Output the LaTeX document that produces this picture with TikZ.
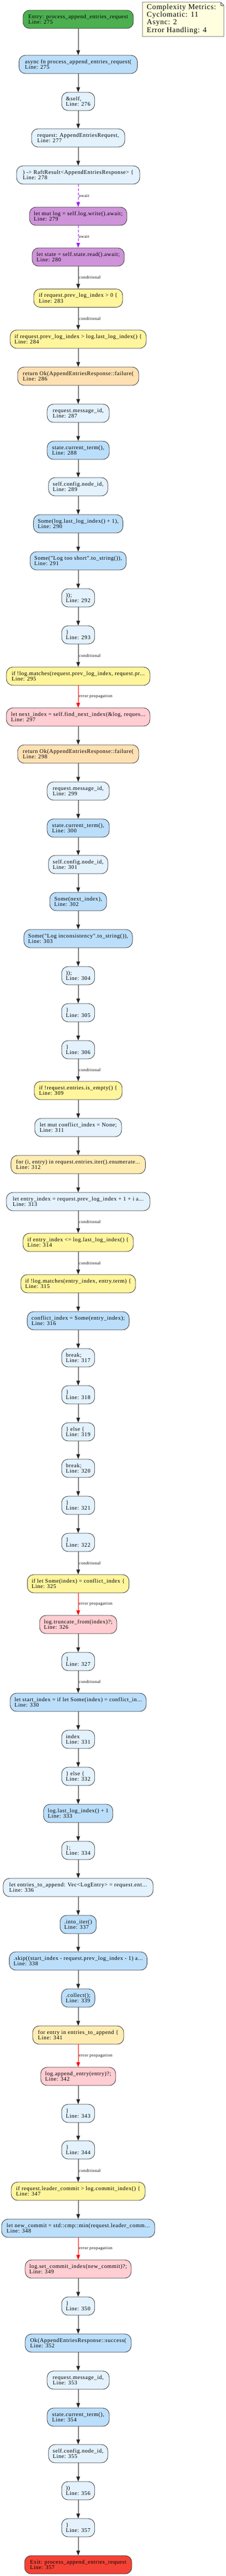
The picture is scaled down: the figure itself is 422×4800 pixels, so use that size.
\documentclass[tikz,border=0pt]{standalone}
\usepackage{fontspec}
\newfontfamily\gvserif[LetterSpace=5.5]{Liberation Serif}
\usetikzlibrary{arrows.meta}
\newcommand\nodefnt{\gvserif\fontsize{10.5}{10.3}\selectfont}
\newcommand\lblfnt{\gvserif\fontsize{8}{9}\selectfont}
\newcommand\notefnt{\gvserif\fontsize{14}{14.3}\selectfont}
\definecolor{cEntry}{HTML}{4CAF50}
\definecolor{cExit}{HTML}{F44336}
\definecolor{cBlueA}{HTML}{BBDEFB}
\definecolor{cBlueB}{HTML}{E3F2FD}
\definecolor{cAsync}{HTML}{CE93D8}
\definecolor{cCond}{HTML}{FFF59D}
\definecolor{cRet}{HTML}{FFE0B2}
\definecolor{cLoop}{HTML}{FFECB3}
\definecolor{cErr}{HTML}{FFCDD2}
\definecolor{cNote}{HTML}{FFFFE0}
\definecolor{cAwait}{HTML}{A020F0}
\begin{document}
\begin{tikzpicture}[x=1pt,y=-1pt,
  nb/.style={draw=black!80, line width=0.8pt, rounded corners=12pt, minimum height=34pt,
    inner xsep=8pt, inner ysep=2pt, align=left, font=\nodefnt, text=black},
  wd/.style={minimum width=#1pt},
  ent/.style={nb, fill=cEntry},
  ext/.style={nb, fill=cExit},
  blA/.style={nb, fill=cBlueA},
  blB/.style={nb, fill=cBlueB},
  asy/.style={nb, fill=cAsync},
  cnd/.style={nb, fill=cCond},
  ret/.style={nb, fill=cRet},
  lp/.style={nb, fill=cLoop},
  err/.style={nb, fill=cErr},
  edge/.style={draw=black!85, line width=0.8pt, -{Triangle[length=9pt,width=7pt]}},
  awaitedge/.style={draw=cAwait, line width=0.8pt, dash pattern=on 5pt off 3pt, -{Triangle[length=9pt,width=7pt,fill=cAwait]}},
  erredge/.style={draw=red, line width=0.8pt, -{Triangle[length=9pt,width=7pt,fill=red]}},
  lbl/.style={anchor=west, font=\lblfnt, inner sep=1pt, text=black}
]
\fill[white] (0,0) rectangle (422,4800);
\useasboundingbox (0,0) rectangle (422,4800);

% metrics note
\draw[draw=black!70, fill=cNote, line width=0.8pt] (266,4) -- (412,4) -- (418,10) -- (418,68) -- (266,68) -- cycle;
\draw[black!70, line width=0.8pt] (412,4) -- (412,10) -- (418,10);
\node[anchor=west, font=\notefnt, align=left, inner sep=0pt] (metrics) at (274,35.5) {Complexity Metrics:\\Cyclomatic: 11\\Async: 2\\Error Handling: 4};

% nodes
\node[ent, wd=206] (n1) at (146,36) {Entry: process\_append\_entries\_request\\Line: 275};
\node[blA, wd=221] (n2) at (146,120) {async fn process\_append\_entries\_request(\\Line: 275};
\node[blB, wd=60] (n3) at (146,189) {\&self,\\Line: 276};
\node[blB, wd=174] (n4) at (146,257) {request: AppendEntriesRequest,\\Line: 277};
\node[blB, wd=230] (n5) at (146,326) {) -> RaftResult<AppendEntriesResponse> \{\\Line: 278};
\node[asy, wd=180] (n6) at (146,403) {let mut log = self.log.write().await;\\Line: 279};
\node[asy, wd=172] (n7) at (146,479) {let state = self.state.read().await;\\Line: 280};
\node[cnd, wd=166] (n8) at (146,555.5) {if request.prev\_log\_index > 0 \{\\Line: 283};
\node[cnd, wd=254] (n9) at (146,632) {if request.prev\_log\_index > log.last\_log\_index() \{\\Line: 284};
\node[ret, wd=226] (n10) at (146,701) {return Ok(AppendEntriesResponse::failure(\\Line: 286};
\node[blB, wd=116] (n11) at (146,770) {request.message\_id,\\Line: 287};
\node[blA, wd=116] (n12) at (146,839) {state.current\_term(),\\Line: 288};
\node[blB, wd=108] (n13) at (146,907) {self.config.node\_id,\\Line: 289};
\node[blA, wd=166] (n14) at (146,976) {Some(log.last\_log\_index() + 1),\\Line: 290};
\node[blA, wd=178] (n15) at (146,1045) {Some("Log too short".to\_string()),\\Line: 291};
\node[blB, wd=60] (n16) at (146,1114) {));\\Line: 292};
\node[blB, wd=60] (n17) at (146,1183) {\}\\Line: 293};
\node[cnd, wd=268] (n18) at (146,1260) {if !log.matches(request.prev\_log\_index, request.pr...\\Line: 295};
\node[err, wd=268] (n19) at (146,1336) {let next\_index = self.find\_next\_index(\&log, reques...\\Line: 297};
\node[ret, wd=226] (n20) at (146,1405) {return Ok(AppendEntriesResponse::failure(\\Line: 298};
\node[blB, wd=116] (n21) at (146,1474) {request.message\_id,\\Line: 299};
\node[blA, wd=116] (n22) at (146,1543) {state.current\_term(),\\Line: 300};
\node[blB, wd=108] (n23) at (146,1611) {self.config.node\_id,\\Line: 301};
\node[blA, wd=106] (n24) at (146,1680) {Some(next\_index),\\Line: 302};
\node[blA, wd=200] (n25) at (146,1749) {Some("Log inconsistency".to\_string()),\\Line: 303};
\node[blB, wd=60] (n26) at (146,1818) {));\\Line: 304};
\node[blB, wd=60] (n27) at (146,1887) {\}\\Line: 305};
\node[blB, wd=60] (n28) at (146,1956) {\}\\Line: 306};
\node[cnd, wd=164] (n29) at (146,2032) {if !request.entries.is\_empty() \{\\Line: 309};
\node[blB, wd=162] (n30) at (146,2101) {let mut conflict\_index = None;\\Line: 311};
\node[lp, wd=251] (n31) at (146,2170) {for (i, entry) in request.entries.iter().enumerate...\\Line: 312};
\node[blB, wd=268] (n32) at (146,2239) {let entry\_index = request.prev\_log\_index + 1 + i a...\\Line: 313};
\node[cnd, wd=206] (n33) at (146,2315) {if entry\_index <= log.last\_log\_index() \{\\Line: 314};
\node[cnd, wd=214] (n34) at (146,2392) {if !log.matches(entry\_index, entry.term) \{\\Line: 315};
\node[blA, wd=190] (n35) at (146,2461) {conflict\_index = Some(entry\_index);\\Line: 316};
\node[blB, wd=60] (n36) at (146,2530) {break;\\Line: 317};
\node[blB, wd=60] (n37) at (146,2599) {\}\\Line: 318};
\node[blB, wd=60] (n38) at (146,2668) {\} else \{\\Line: 319};
\node[blB, wd=60] (n39) at (146,2736) {break;\\Line: 320};
\node[blB, wd=60] (n40) at (146,2805) {\}\\Line: 321};
\node[blB, wd=60] (n41) at (146,2874) {\}\\Line: 322};
\node[cnd, wd=188] (n42) at (146,2951) {if let Some(index) = conflict\_index \{\\Line: 325};
\node[err, wd=144] (n43) at (146,3027) {log.truncate\_from(index)?;\\Line: 326};
\node[blB, wd=60] (n44) at (146,3096) {\}\\Line: 327};
\node[blA, wd=254] (n45) at (146,3172) {let start\_index = if let Some(index) = conflict\_in...\\Line: 330};
\node[blB, wd=60] (n46) at (146,3241) {index\\Line: 331};
\node[blB, wd=60] (n47) at (146,3310) {\} else \{\\Line: 332};
\node[blA, wd=128] (n48) at (146,3379) {log.last\_log\_index() + 1\\Line: 333};
\node[blB, wd=60] (n49) at (146,3448) {\};\\Line: 334};
\node[blB, wd=280] (n50) at (146,3517) {let entries\_to\_append: Vec<LogEntry> = request.ent...\\Line: 336};
\node[blA, wd=64] (n51) at (146,3586) {.into\_iter()\\Line: 337};
\node[blA, wd=257] (n52) at (146,3654) {.skip((start\_index - request.prev\_log\_index - 1) a...\\Line: 338};
\node[blA, wd=60] (n53) at (146,3723) {.collect();\\Line: 339};
\node[lp, wd=170] (n54) at (146,3792) {for entry in entries\_to\_append \{\\Line: 341};
\node[err, wd=140] (n55) at (146,3869) {log.append\_entry(entry)?;\\Line: 342};
\node[blB, wd=60] (n56) at (146,3938) {\}\\Line: 343};
\node[blB, wd=60] (n57) at (146,4006) {\}\\Line: 344};
\node[cnd, wd=250] (n58) at (146,4083) {if request.leader\_commit > log.commit\_index() \{\\Line: 347};
\node[blA, wd=286] (n59) at (146,4152) {let new\_commit = std::cmp::min(request.leader\_comm...\\Line: 348};
\node[err, wd=194] (n60) at (146,4228) {log.set\_commit\_index(new\_commit)?;\\Line: 349};
\node[blB, wd=60] (n61) at (146,4297) {\}\\Line: 350};
\node[blA, wd=198] (n62) at (146,4366) {Ok(AppendEntriesResponse::success(\\Line: 352};
\node[blB, wd=116] (n63) at (146,4435) {request.message\_id,\\Line: 353};
\node[blA, wd=116] (n64) at (146,4504) {state.current\_term(),\\Line: 354};
\node[blB, wd=108] (n65) at (146,4572) {self.config.node\_id,\\Line: 355};
\node[blB, wd=60] (n66) at (146,4641) {))\\Line: 356};
\node[blB, wd=60] (n67) at (146,4710) {\}\\Line: 357};
\node[ext, wd=200] (n68) at (146,4779) {Exit: process\_append\_entries\_request\\Line: 357};

% plain edges
\foreach \a/\b in {1/2,2/3,3/4,4/5,9/10,10/11,11/12,12/13,13/14,14/15,15/16,16/17,19/20,20/21,21/22,22/23,23/24,24/25,25/26,26/27,27/28,29/30,30/31,31/32,34/35,35/36,36/37,37/38,38/39,39/40,40/41,43/44,45/46,46/47,47/48,48/49,49/50,50/51,51/52,52/53,53/54,55/56,56/57,58/59,60/61,61/62,62/63,63/64,64/65,65/66,66/67,67/68}
  \draw[edge] (n\a) -- (n\b);
% conditional edges
\foreach \a/\b in {7/8,8/9,17/18,28/29,32/33,33/34,41/42,44/45,57/58}
  \draw[edge] (n\a) -- node[lbl] {conditional} (n\b);
% await edges
\foreach \a/\b in {5/6,6/7}
  \draw[awaitedge] (n\a) -- node[lbl] {await} (n\b);
% error propagation edges
\foreach \a/\b in {18/19,42/43,54/55,59/60}
  \draw[erredge] (n\a) -- node[lbl] {error propagation} (n\b);
\end{tikzpicture}
\end{document}
